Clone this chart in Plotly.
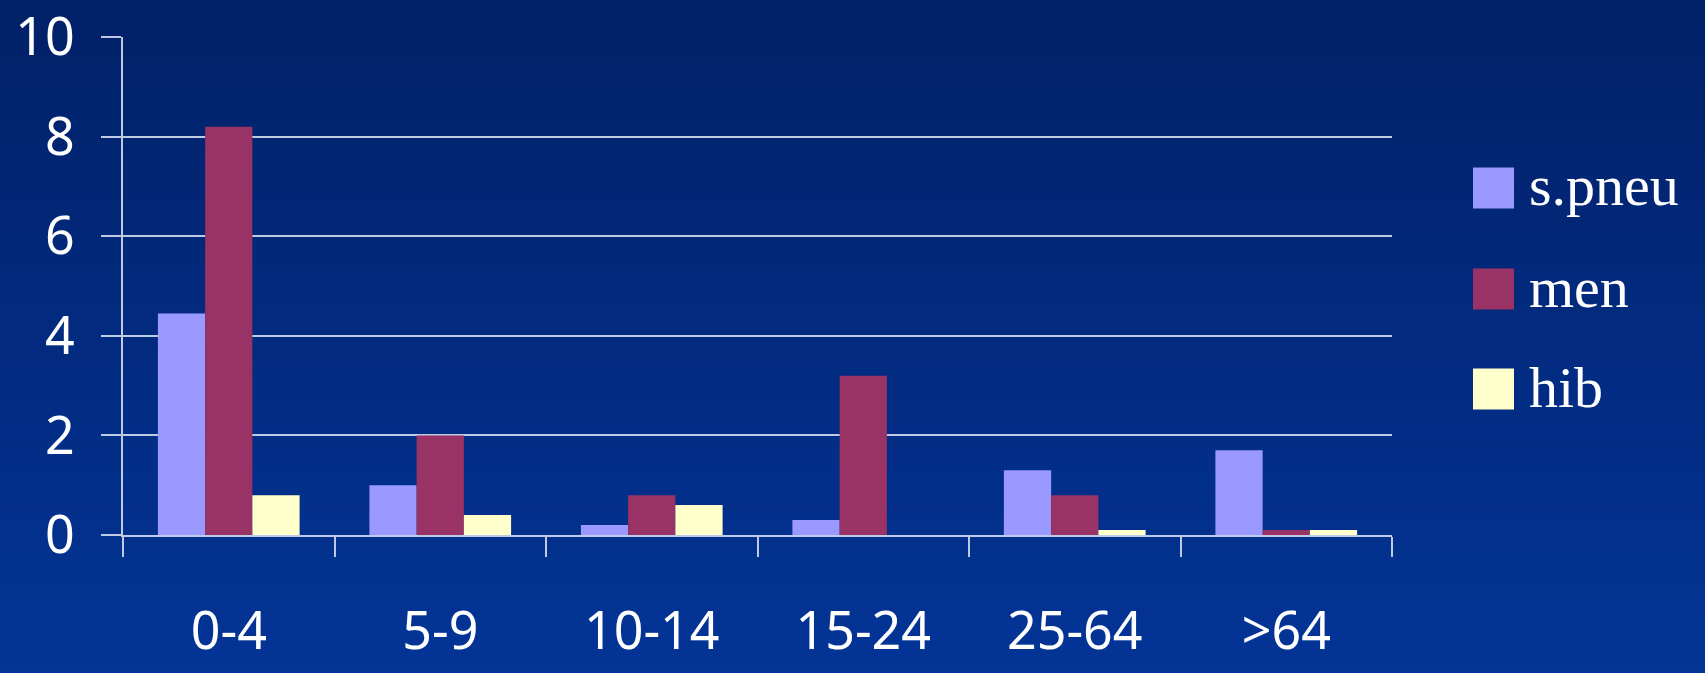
import plotly.graph_objects as go

categories = ["0-4", "5-9", "10-14", "15-24", "25-64", ">64"]
spneu = [4.45, 1.0, 0.2, 0.3, 1.3, 1.7]
men = [8.2, 2.0, 0.8, 3.2, 0.8, 0.1]
hib = [0.8, 0.4, 0.6, 0.0, 0.1, 0.1]
series_names = ["s.pneu", "men", "hib"]
series_colors = ["#9999FF", "#993366", "#FFFFCC"]
y_ticks = [0, 2, 4, 6, 8, 10]

W, H = 1705, 673
L, R, T, B = 123, 313, 37, 138
pw, ph = W - L - R, H - T - B

def px(x):
    return (x - L) / pw

def py(y):
    return (H - B - y) / ph

fig = go.Figure()
for name, vals, col in zip(series_names, [spneu, men, hib], series_colors):
    fig.add_trace(go.Bar(x=categories, y=vals, name=name, marker_color=col,
                         marker_line_width=0, showlegend=False))

shapes = []
# background gradient
top = (1, 33, 104)
bot = (3, 52, 150)
n = 60
for i in range(n):
    t = i / (n - 1)
    c = tuple(round(top[k] + (bot[k] - top[k]) * t) for k in range(3))
    y0 = H * i / n - 1
    y1 = H * (i + 1) / n + 1
    shapes.append(dict(type="rect", xref="paper", yref="paper", layer="below",
                       x0=px(-2), x1=px(W + 2), y0=py(y1), y1=py(y0),
                       fillcolor="rgb(%d,%d,%d)" % c, line_width=0))

annotations = []
rows = [188, 289, 389]
for name, col, yc in zip(series_names, series_colors, rows):
    shapes.append(dict(type="rect", xref="paper", yref="paper",
                       x0=px(1473), x1=px(1514), y0=py(yc + 20.5), y1=py(yc - 20.5),
                       fillcolor=col, line_width=0))
    annotations.append(dict(text=name, xref="paper", yref="paper", x=px(1527), y=py(yc - 2),
                            xanchor="left", yanchor="middle", showarrow=False,
                            font=dict(family="Liberation Serif, Times New Roman, serif",
                                      size=58, color="white")))

grid_col = "rgba(225,230,245,0.85)"
fig.update_layout(
    width=W, height=H,
    margin=dict(l=L, r=R, t=T, b=B, autoexpand=False),
    paper_bgcolor="rgb(2,42,126)",
    plot_bgcolor="rgba(0,0,0,0)",
    barmode="group", bargap=0.33, bargroupgap=0.0,
    shapes=shapes, annotations=annotations,
    font=dict(family="Comic Sans MS, Noto Sans, sans-serif", color="white"),
    xaxis=dict(type="category", showline=True, linecolor=grid_col, linewidth=1.5,
               ticks="outside", tickson="boundaries", ticklen=20, tickwidth=1.5,
               tickcolor=grid_col, showgrid=False, automargin=False,
               ticklabeloverflow="allow",
               tickfont=dict(size=52, color="white"), ticklabelstandoff=50),
    yaxis=dict(range=[0, 10], tickvals=y_ticks, showgrid=True, gridcolor=grid_col,
               gridwidth=1.5, zeroline=False, showline=True, linecolor=grid_col,
               linewidth=1.5, ticks="outside", ticklen=20, tickwidth=1.5,
               tickcolor=grid_col, tickfont=dict(size=52, color="white"),
               ticklabeloverflow="allow",
               ticklabelstandoff=16, automargin=False),
)

fig.write_html("out.html")
